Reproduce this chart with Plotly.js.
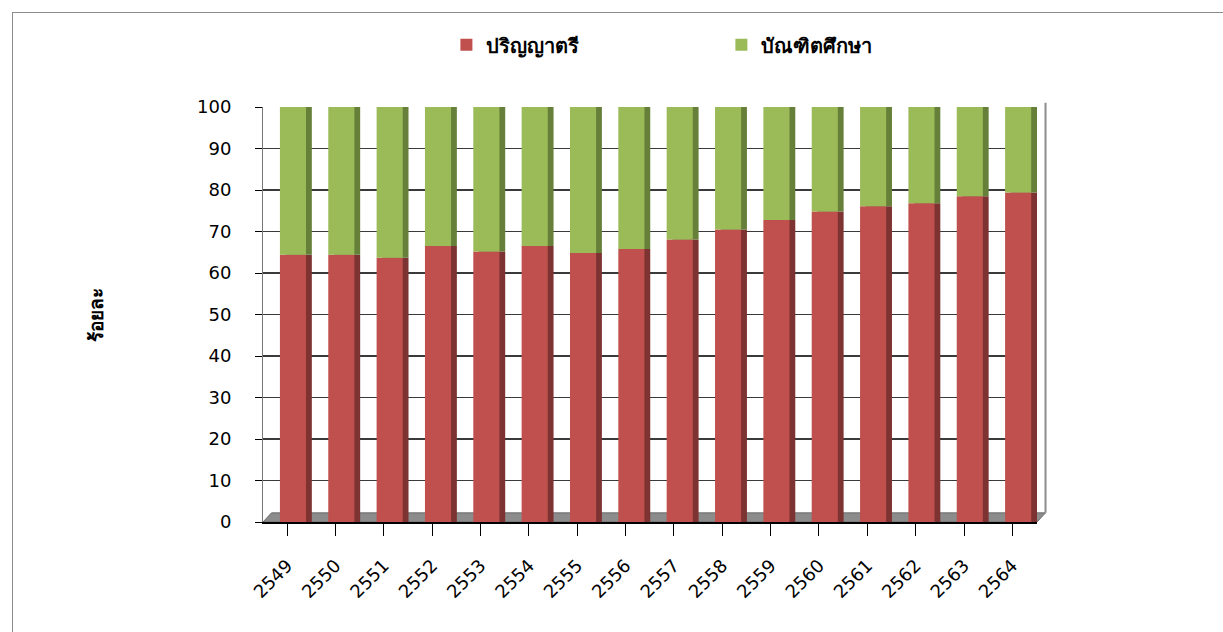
<!DOCTYPE html>
<html><head><meta charset="utf-8">
<script src="https://cdn.plot.ly/plotly-3.0.1.min.js"></script>
<style>
html,body{margin:0;padding:0;background:#fff;overflow:hidden}
#frame{position:absolute;left:12px;top:12px;width:1400px;height:800px;border:1px solid #8c8c8c}
#chart{position:absolute;left:0;top:0;width:1223px;height:632px}
</style></head>
<body><div id="frame"></div><div id="chart"></div>
<script>
const years = ['2549','2550','2551','2552','2553','2554','2555','2556','2557','2558','2559','2560','2561','2562','2563','2564'];
const bachelor = [64.4,64.4,63.7,66.5,65.2,66.5,64.8,65.8,68.1,70.5,72.8,74.8,76.1,76.8,78.5,79.4];
const graduate = bachelor.map(v => +(100 - v).toFixed(1));
const seriesNames = ['ปริญญาตรี','บัณฑิตศึกษา'];

const W = 0.54, OFF = -0.15;
const traces = [
  {type:'bar', x:years, y:bachelor, base:0, width:W, offset:OFF+0.12, marker:{color:'#7d3331'}, showlegend:false, hoverinfo:'skip'},
  {type:'bar', x:years, y:graduate, base:bachelor, width:W, offset:OFF+0.12, marker:{color:'#66803a'}, showlegend:false, hoverinfo:'skip'},
  {type:'bar', name:seriesNames[0], x:years, y:bachelor, base:0, width:W, offset:OFF, marker:{color:'#c0504d'}},
  {type:'bar', name:seriesNames[1], x:years, y:graduate, base:bachelor, width:W, offset:OFF, marker:{color:'#9bbb59'}}
];
const layout = {
  width:1223, height:632,
  paper_bgcolor:'rgba(0,0,0,0)', plot_bgcolor:'rgba(0,0,0,0)',
  barmode:'overlay',
  margin:{l:263, r:186, t:107, b:110},
  font:{family:'DejaVu Sans, Noto Sans, sans-serif', color:'#000', size:18},
  showlegend:true,
  legend:{orientation:'h', xref:'container', yref:'container', x:0.365, y:0.96, xanchor:'left', yanchor:'top',
          font:{size:20, family:'DejaVu Sans, Noto Sans, sans-serif', weight:'bold'}, entrywidth:230, entrywidthmode:'pixels', traceorder:'normal'},
  xaxis:{type:'category', tickangle:-45, ticks:'outside', ticklen:12, tickcolor:'#000', showline:true, linecolor:'#000', linewidth:2,
         tickfont:{size:18}, showgrid:false, ticklabelstandoff:12},
  yaxis:{range:[0,100], dtick:10, ticks:'outside', ticklen:7, tickcolor:'#000', showline:true, linecolor:'#777', linewidth:1,
         gridcolor:'#3a3a3a', gridwidth:1.5, zeroline:false, tickfont:{size:18}, ticklabelstandoff:20,
         title:{text:'ร้อยละ', font:{size:19, weight:'bold'}, standoff:88}},
  shapes:[
    {type:'path', xref:'paper', yref:'paper', layer:'below', path:'M0,0 L1,0 L1.011,0.022 L0.011,0.022 Z', fillcolor:'#8c8c8c', line:{color:'#6a6a6a', width:1}},
    {type:'line', xref:'paper', yref:'paper', layer:'below', x0:1.011, x1:1.011, y0:0.022, y1:1.01, line:{color:'#8c8c8c', width:2}}
  ]
};
Plotly.newPlot('chart', traces, layout, {displayModeBar:false, staticPlot:true});
</script></body></html>
